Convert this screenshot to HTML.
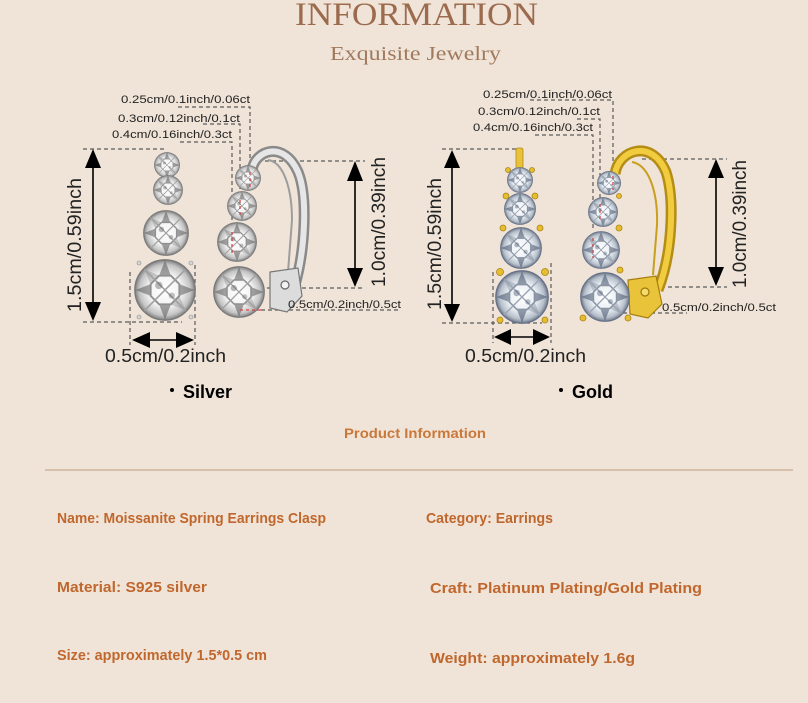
<!DOCTYPE html>
<html><head><meta charset="utf-8"><style>
html,body{margin:0;padding:0;background:#f0e4d8;}
svg{display:block;}
</style></head><body>
<svg width="808" height="703" viewBox="0 0 808 703" xmlns="http://www.w3.org/2000/svg">
<defs>
<radialGradient id="sg" cx="0.5" cy="0.5" r="0.5">
<stop offset="0" stop-color="#ffffff"/><stop offset="0.55" stop-color="#f2f2f2"/><stop offset="0.85" stop-color="#c4c4c4"/><stop offset="1" stop-color="#808080"/>
</radialGradient>
<radialGradient id="gg" cx="0.5" cy="0.5" r="0.5">
<stop offset="0" stop-color="#ffffff"/><stop offset="0.55" stop-color="#eaeff4"/><stop offset="0.85" stop-color="#b6bfca"/><stop offset="1" stop-color="#707a8a"/>
</radialGradient>
<symbol id="ss" viewBox="-1 -1 2 2">
<circle r="0.97" fill="url(#sg)" stroke="#7a7a7a" stroke-width="0.05"/>
<g fill="#5c5c5c" opacity="0.55">
<polygon points="0.462,-0.191 0.95,0 0.462,0.191"/>
<polygon points="-0.462,-0.191 -0.95,0 -0.462,0.191"/>
<polygon points="-0.191,0.462 0,0.95 0.191,0.462"/>
<polygon points="-0.191,-0.462 0,-0.95 0.191,-0.462"/>
</g>
<g fill="#8a8a8a" opacity="0.4">
<polygon points="0.462,0.191 0.67,0.67 0.191,0.462"/>
<polygon points="-0.462,-0.191 -0.67,-0.67 -0.191,-0.462"/>
</g>
<polygon points="0.462,0.191 0.191,0.462 -0.191,0.462 -0.462,0.191 -0.462,-0.191 -0.191,-0.462 0.191,-0.462 0.462,-0.191" fill="none" stroke="#909090" stroke-width="0.06"/>
<path d="M-0.67 -0.67 L0.67 0.67 M-0.67 0.67 L0.67 -0.67" stroke="#a0a0a0" stroke-width="0.05"/>
<circle cx="-0.2" cy="-0.15" r="0.12" fill="#555" opacity="0.4"/>
<circle cx="0.22" cy="0.18" r="0.1" fill="#555" opacity="0.35"/>
</symbol>
<symbol id="gs" viewBox="-1 -1 2 2">
<circle r="0.97" fill="url(#gg)" stroke="#67728a" stroke-width="0.05"/>
<g fill="#44546c" opacity="0.55">
<polygon points="0.462,-0.191 0.95,0 0.462,0.191"/>
<polygon points="-0.462,-0.191 -0.95,0 -0.462,0.191"/>
<polygon points="-0.191,0.462 0,0.95 0.191,0.462"/>
<polygon points="-0.191,-0.462 0,-0.95 0.191,-0.462"/>
</g>
<g fill="#7a8698" opacity="0.4">
<polygon points="0.462,0.191 0.67,0.67 0.191,0.462"/>
<polygon points="-0.462,-0.191 -0.67,-0.67 -0.191,-0.462"/>
</g>
<polygon points="0.462,0.191 0.191,0.462 -0.191,0.462 -0.462,0.191 -0.462,-0.191 -0.191,-0.462 0.191,-0.462 0.462,-0.191" fill="none" stroke="#8a94a2" stroke-width="0.06"/>
<path d="M-0.67 -0.67 L0.67 0.67 M-0.67 0.67 L0.67 -0.67" stroke="#9aa4b2" stroke-width="0.05"/>
<circle cx="-0.2" cy="-0.15" r="0.12" fill="#3f4f66" opacity="0.4"/>
<circle cx="0.22" cy="0.18" r="0.1" fill="#3f4f66" opacity="0.35"/>
</symbol>
</defs>
<rect width="808" height="703" fill="#f0e4d8"/>

<!-- Header -->
<text x="295" y="25" font-family="Liberation Serif, serif" font-size="33" fill="#9c6b4e" textLength="243" lengthAdjust="spacingAndGlyphs">INFORMATION</text>
<text x="330" y="60" font-family="Liberation Serif, serif" font-size="20" fill="#a07a5e" textLength="171" lengthAdjust="spacingAndGlyphs">Exquisite  Jewelry</text>

<!-- ========== SILVER ========== -->
<g fill="none" stroke="#5a5a5a" stroke-width="1.2" stroke-dasharray="4 3">
<path d="M178 107 H250 V173"/>
<path d="M203 124 H240 V207"/>
<path d="M180 142 H232 V240"/>
<path d="M83 149 H167"/>
<path d="M83 322 H182"/>
<path d="M130 272 V345"/>
<path d="M195 265 V345"/>
<path d="M265 161 H365"/>
<path d="M267 288 H365"/>
<path d="M240 310 H400"/>
</g>
<!-- silver hoop -->
<path d="M252 170 C255 150, 284 140, 298 172 C308 196, 305 250, 295 285" fill="none" stroke="#8a8a8a" stroke-width="11"/>
<path d="M252 170 C255 150, 284 140, 298 172 C308 196, 305 250, 295 285" fill="none" stroke="#e6e6e6" stroke-width="6"/>
<path d="M268 160 C284 162, 292 190, 292 220 L288 272" fill="none" stroke="#9d9d9d" stroke-width="2"/>
<path d="M270 272 L298 268 L302 296 L287 312 L270 308 Z" fill="#dcdcdc" stroke="#777" stroke-width="1.2"/>
<circle cx="285" cy="285" r="4" fill="#f2f2f2" stroke="#666" stroke-width="1.2"/>
<!-- silver front stones -->
<g fill="#d6d6d6" stroke="#8a8a8a" stroke-width="0.6">
<circle cx="139" cy="263" r="2"/><circle cx="191" cy="263" r="2"/>
<circle cx="139" cy="317" r="2"/><circle cx="191" cy="317" r="2"/>
</g>
<use href="#ss" x="154" y="152" width="26" height="26"/>
<use href="#ss" x="153" y="175" width="30" height="30"/>
<use href="#ss" x="143" y="210" width="46" height="46"/>
<use href="#ss" x="134" y="259" width="62" height="62"/>
<!-- silver side stones -->
<use href="#ss" x="235" y="165" width="26" height="26"/>
<use href="#ss" x="227" y="191" width="30" height="30"/>
<use href="#ss" x="217" y="222" width="40" height="40"/>
<use href="#ss" x="213" y="266" width="52" height="52"/>
<g stroke="#d04848" stroke-width="1.3" stroke-dasharray="3 3" fill="none">
<path d="M250 172 V188"/><path d="M240 200 V215"/><path d="M232 232 V255"/><path d="M240 310 H262"/>
</g>
<!-- silver arrows -->
<g fill="#000">
<polygon points="93,149 85,168 101,168"/><polygon points="93,321 85,302 101,302"/>
<polygon points="355,161 347,181 363,181"/><polygon points="355,287 347,268 363,268"/>
<polygon points="132,340 150,332 150,348"/><polygon points="194,340 176,332 176,348"/>
</g>
<g stroke="#000" stroke-width="1.6">
<line x1="93" y1="166" x2="93" y2="304"/>
<line x1="355" y1="179" x2="355" y2="270"/>
<line x1="148" y1="340" x2="178" y2="340"/>
</g>
<!-- silver labels -->
<g font-family="Liberation Sans, sans-serif" fill="#222">
<text x="121" y="103" font-size="11" textLength="129" lengthAdjust="spacingAndGlyphs">0.25cm/0.1inch/0.06ct</text>
<text x="118" y="122" font-size="11" textLength="122" lengthAdjust="spacingAndGlyphs">0.3cm/0.12inch/0.1ct</text>
<text x="112" y="138" font-size="11" textLength="120" lengthAdjust="spacingAndGlyphs">0.4cm/0.16inch/0.3ct</text>
<text x="288" y="308" font-size="11" textLength="113" lengthAdjust="spacingAndGlyphs">0.5cm/0.2inch/0.5ct</text>
<text x="105" y="362" font-size="18" textLength="121" lengthAdjust="spacingAndGlyphs">0.5cm/0.2inch</text>
<text transform="translate(81,312) rotate(-90)" font-size="19" textLength="134" lengthAdjust="spacingAndGlyphs">1.5cm/0.59inch</text>
<text transform="translate(385,287) rotate(-90)" font-size="19" textLength="130" lengthAdjust="spacingAndGlyphs">1.0cm/0.39inch</text>
</g>

<!-- ========== GOLD ========== -->
<g fill="none" stroke="#5a5a5a" stroke-width="1.2" stroke-dasharray="4 3">
<path d="M530 100 H613 V172"/>
<path d="M577 119 H600 V198"/>
<path d="M535 135 H593 V230"/>
<path d="M442 149 H523"/>
<path d="M442 323 H542"/>
<path d="M493 272 V343"/>
<path d="M551 263 V343"/>
<path d="M642 159 H727"/>
<path d="M633 287 H727"/>
<path d="M623 313 H687"/>
</g>
<!-- gold hoop -->
<path d="M615 174 C618 150, 652 138, 666 172 C675 200, 672 255, 658 290" fill="none" stroke="#b48c16" stroke-width="11"/>
<path d="M615 174 C618 150, 652 138, 666 172 C675 200, 672 255, 658 290" fill="none" stroke="#f0cc3e" stroke-width="6"/>
<path d="M632 162 C650 165, 658 195, 657 225 L653 275" fill="none" stroke="#c89f1e" stroke-width="2"/>
<path d="M628 280 L656 276 L662 304 L648 318 L630 314 Z" fill="#e9c33a" stroke="#a57e10" stroke-width="1.2"/>
<circle cx="645" cy="292" r="4" fill="#f6dc6a" stroke="#9a7510" stroke-width="1.2"/>
<!-- gold front -->
<rect x="516" y="148" width="7" height="26" rx="2" fill="#e9c23a" stroke="#b08a18" stroke-width="0.8"/>
<g fill="#e6bd2e" stroke="#a98414" stroke-width="0.8">
<circle cx="508" cy="170" r="2.5"/><circle cx="532" cy="170" r="2.5"/>
<circle cx="506" cy="196" r="3"/><circle cx="535" cy="196" r="3"/>
<circle cx="503" cy="228" r="3"/><circle cx="540" cy="228" r="3"/>
<circle cx="500" cy="272" r="3.5"/><circle cx="545" cy="272" r="3.5"/>
<circle cx="500" cy="320" r="3"/><circle cx="545" cy="320" r="3"/>
</g>
<use href="#gs" x="507" y="167" width="26" height="26"/>
<use href="#gs" x="504" y="193" width="32" height="32"/>
<use href="#gs" x="500" y="227" width="42" height="42"/>
<use href="#gs" x="495" y="270" width="54" height="54"/>
<!-- gold side stones -->
<g fill="#e6bd2e" stroke="#a98414" stroke-width="0.8">
<circle cx="619" cy="196" r="2.5"/><circle cx="619" cy="228" r="3"/><circle cx="620" cy="270" r="3"/><circle cx="583" cy="318" r="3"/><circle cx="628" cy="318" r="3"/>
</g>
<use href="#gs" x="597" y="171" width="24" height="24"/>
<use href="#gs" x="588" y="197" width="30" height="30"/>
<use href="#gs" x="582" y="231" width="38" height="38"/>
<use href="#gs" x="580" y="272" width="50" height="50"/>
<g stroke="#d04848" stroke-width="1.3" stroke-dasharray="3 3" fill="none">
<path d="M613 176 V190"/><path d="M600 204 V220"/><path d="M593 238 V258"/>
</g>
<!-- gold arrows -->
<g fill="#000">
<polygon points="452,150 444,168 460,168"/><polygon points="452,322 444,304 460,304"/>
<polygon points="716,159 708,178 724,178"/><polygon points="716,286 708,267 724,267"/>
<polygon points="494,337 511,329 511,345"/><polygon points="550,337 533,329 533,345"/>
</g>
<g stroke="#000" stroke-width="1.6">
<line x1="452" y1="166" x2="452" y2="306"/>
<line x1="716" y1="176" x2="716" y2="269"/>
<line x1="509" y1="337" x2="535" y2="337"/>
</g>
<!-- gold labels -->
<g font-family="Liberation Sans, sans-serif" fill="#222">
<text x="483" y="98" font-size="11" textLength="129" lengthAdjust="spacingAndGlyphs">0.25cm/0.1inch/0.06ct</text>
<text x="478" y="115" font-size="11" textLength="122" lengthAdjust="spacingAndGlyphs">0.3cm/0.12inch/0.1ct</text>
<text x="473" y="131" font-size="11" textLength="120" lengthAdjust="spacingAndGlyphs">0.4cm/0.16inch/0.3ct</text>
<text x="662" y="311" font-size="11" textLength="114" lengthAdjust="spacingAndGlyphs">0.5cm/0.2inch/0.5ct</text>
<text x="465" y="362" font-size="18" textLength="121" lengthAdjust="spacingAndGlyphs">0.5cm/0.2inch</text>
<text transform="translate(441,310) rotate(-90)" font-size="19" textLength="132" lengthAdjust="spacingAndGlyphs">1.5cm/0.59inch</text>
<text transform="translate(746,288) rotate(-90)" font-size="19" textLength="128" lengthAdjust="spacingAndGlyphs">1.0cm/0.39inch</text>
</g>

<!-- color labels -->
<circle cx="172" cy="390" r="2" fill="#000"/>
<text x="183" y="398" font-family="Liberation Sans, sans-serif" font-weight="bold" font-size="18" fill="#000" textLength="49" lengthAdjust="spacingAndGlyphs">Silver</text>
<circle cx="561" cy="390" r="2" fill="#000"/>
<text x="572" y="398" font-family="Liberation Sans, sans-serif" font-weight="bold" font-size="18" fill="#000" textLength="41" lengthAdjust="spacingAndGlyphs">Gold</text>

<text x="344" y="438" font-family="Liberation Sans, sans-serif" font-weight="bold" font-size="14" fill="#c9783a" textLength="142" lengthAdjust="spacingAndGlyphs">Product Information</text>
<rect x="45" y="469" width="748" height="2" fill="#d6c0aa"/>

<!-- info rows -->
<g font-family="Liberation Sans, sans-serif" font-weight="bold" font-size="15" fill="#c0672d">
<text x="57" y="523" textLength="269" lengthAdjust="spacingAndGlyphs">Name: Moissanite Spring Earrings Clasp</text>
<text x="426" y="523" textLength="127" lengthAdjust="spacingAndGlyphs">Category: Earrings</text>
<text x="57" y="592" textLength="150" lengthAdjust="spacingAndGlyphs">Material: S925 silver</text>
<text x="430" y="593" textLength="272" lengthAdjust="spacingAndGlyphs">Craft: Platinum Plating/Gold Plating</text>
<text x="57" y="660" textLength="210" lengthAdjust="spacingAndGlyphs">Size: approximately 1.5*0.5 cm</text>
<text x="430" y="663" textLength="205" lengthAdjust="spacingAndGlyphs">Weight: approximately 1.6g</text>
</g>
</svg>
</body></html>
